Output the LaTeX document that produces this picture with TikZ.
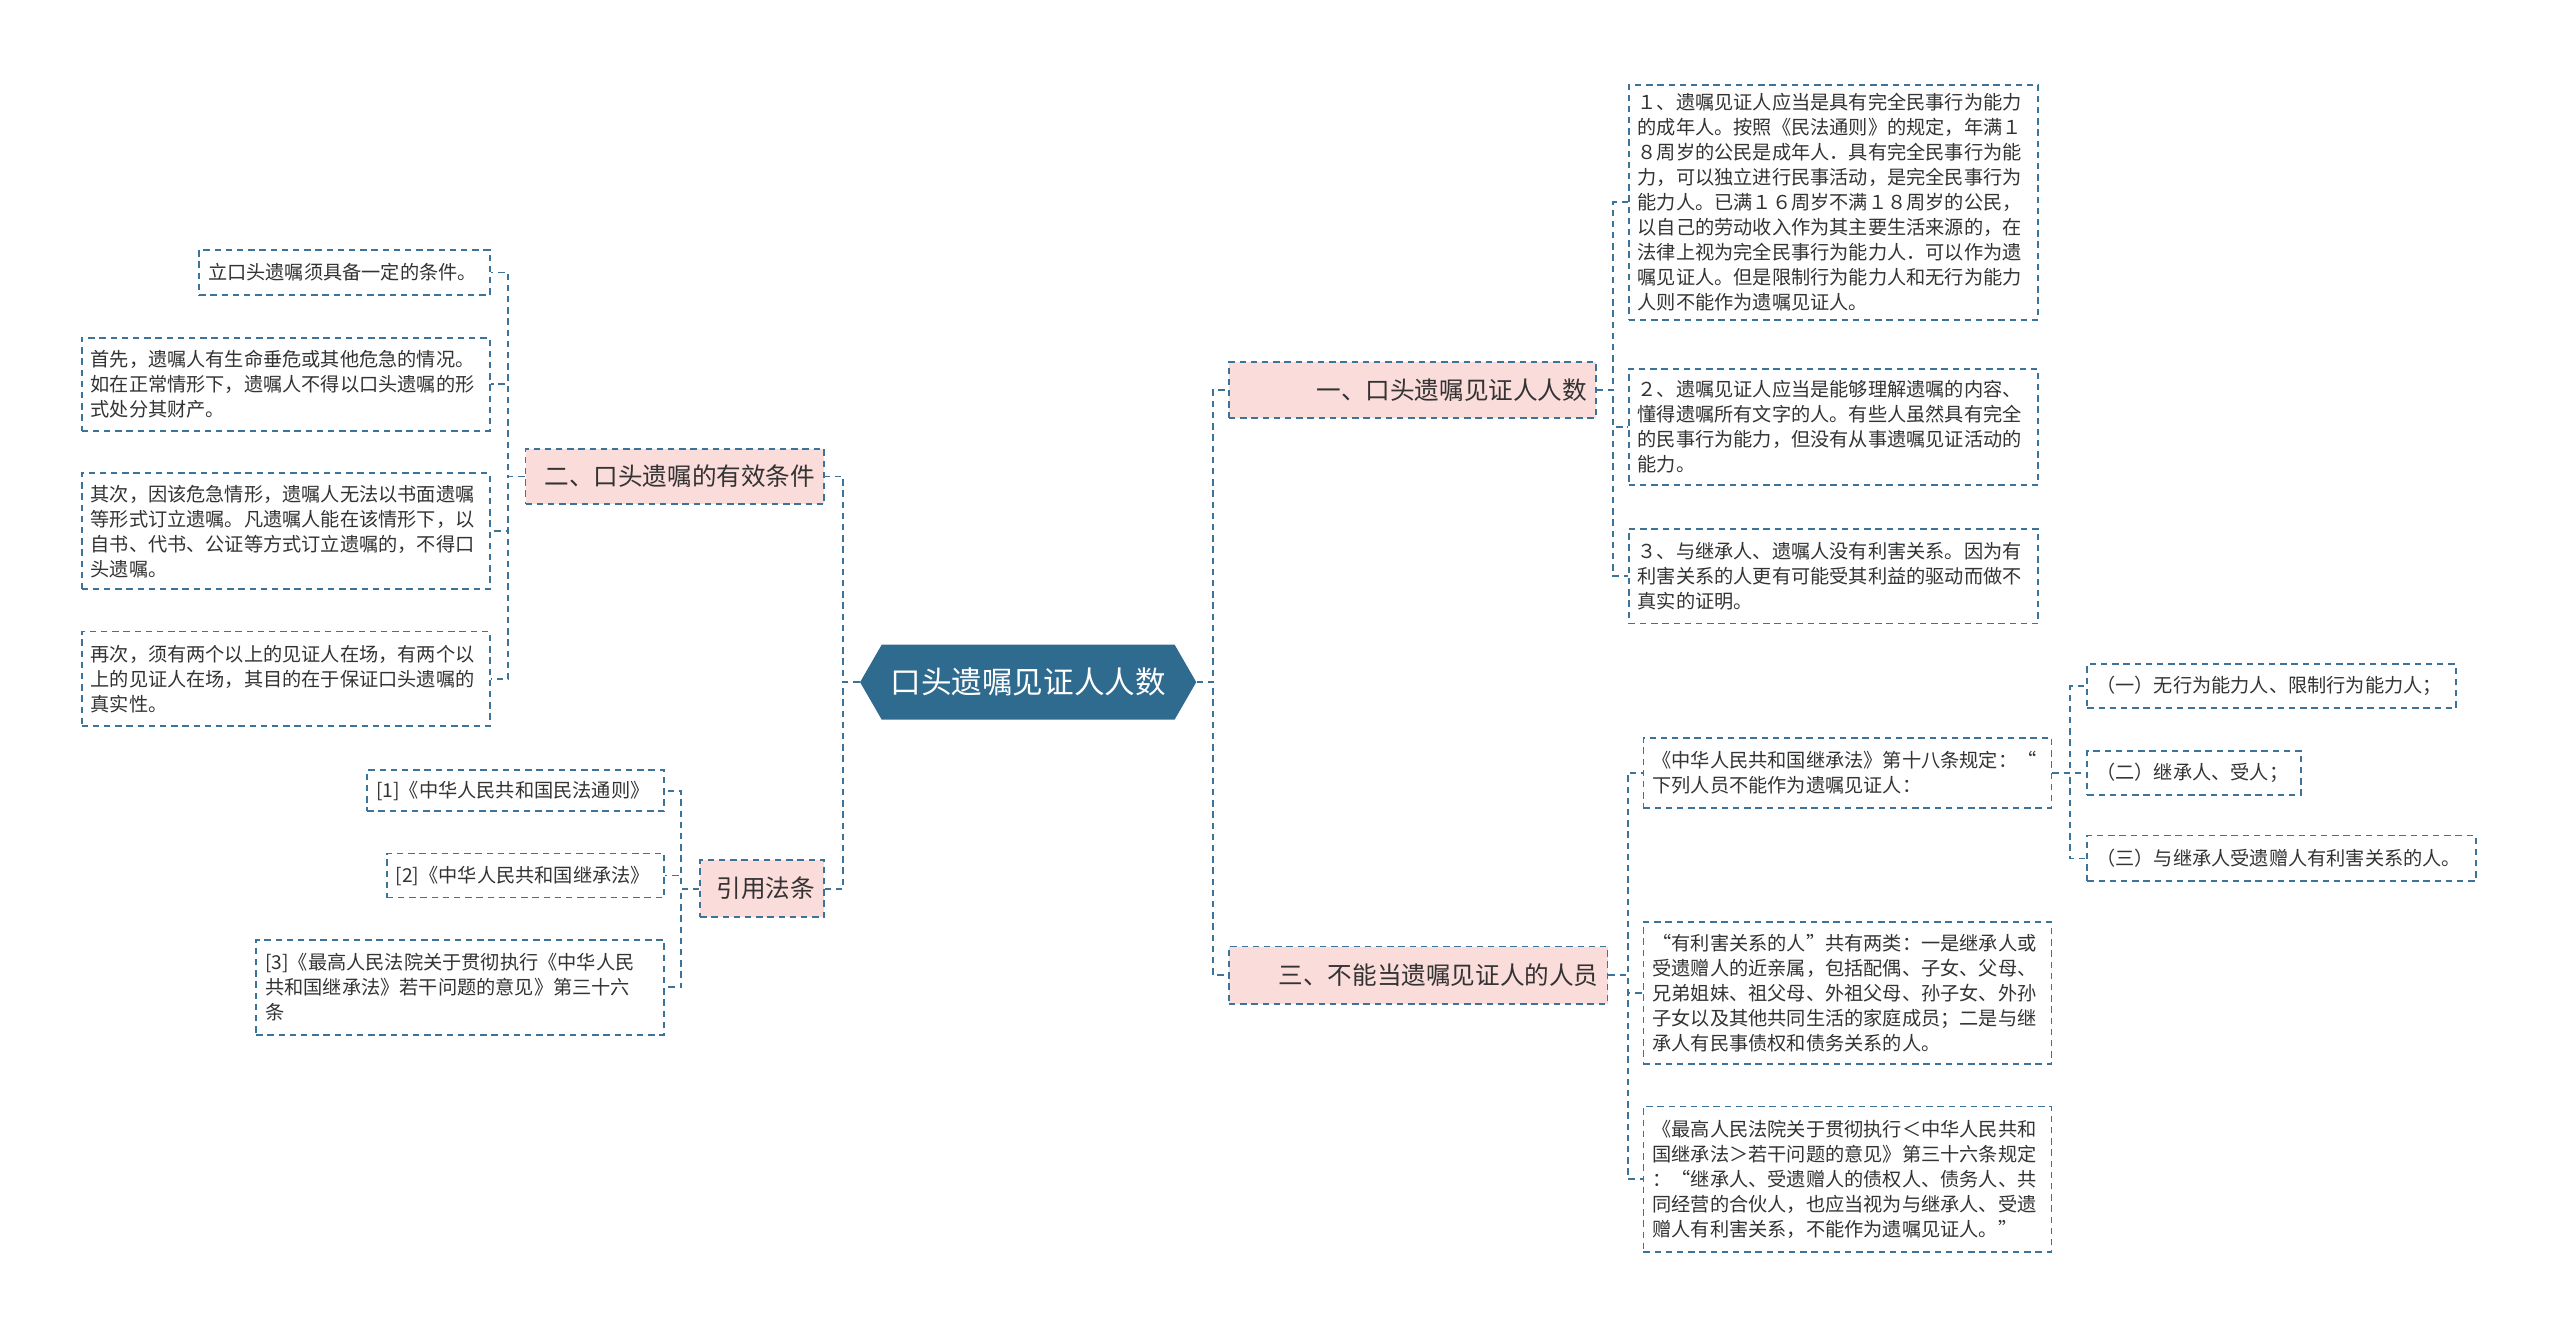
\documentclass[tikz,border=0pt]{standalone}
\usepackage{fontspec}
\setmainfont{Noto Sans CJK SC}
\usetikzlibrary{shapes.symbols}
\definecolor{lblue}{HTML}{3C7398}
\definecolor{rootc}{HTML}{2F6B8E}
\definecolor{pinkc}{HTML}{FADCDA}
\definecolor{txtc}{HTML}{333333}
\tikzset{
  dsh/.style={draw=lblue,line width=0.9pt,dash pattern=on 3.2pt off 2.4pt},
  leaf/.style={dsh,fill=white,inner xsep=4.5pt,inner ysep=2pt,align=left,text=txtc,font=\fontsize{9.6}{12.5}\selectfont},
  br/.style={dsh,fill=pinkc,inner xsep=4.5pt,inner ysep=2pt,align=right,text=txtc,font=\fontsize{12.3}{15}\selectfont},
  con/.style={dsh,fill=none}
}
\newcommand\lf[7][leaf]{%
 \pgfmathsetmacro\tw{(#5-#3)*0.816-9}%
 \pgfmathsetmacro\hh{(#6-#4)*0.816}%
 \pgfmathsetmacro\ww{(#5-#3)*0.816}%
 \node[#1,minimum width=\ww pt,minimum height=\hh pt,text width=\tw pt] (#2) at ({(#3+#5)/2},{(#4+#6)/2}) {#7};}
\begin{document}
\begin{tikzpicture}[x=0.816pt,y=-0.816pt]
\useasboundingbox (0,0) rectangle (1280pt,-668pt);
\node[signal,signal to=west and east,signal pointer angle=120,fill=rootc,text=white,minimum width={206*0.816pt},minimum height={46*0.816pt},inner sep=0pt,font=\fontsize{15.3}{18}\selectfont] (root) at (630,418) {口头遗嘱见证人人数};
% branches
\lf[br]{b1}{753}{222}{978}{256}{一、口头遗嘱见证人人数}
\lf[br]{b2}{322}{275}{505}{309}{二、口头遗嘱的有效条件}
\lf[br]{b4}{429}{527}{505}{562}{引用法条}
\lf[br]{b3}{753}{580}{985}{615}{三、不能当遗嘱见证人的人员}
% right leaves
\lf{r1}{998}{52}{1249}{196}{１、遗嘱见证人应当是具有完全民事行为能力\\的成年人。按照《民法通则》的规定，年满１\\８周岁的公民是成年人．具有完全民事行为能\\力，可以独立进行民事活动，是完全民事行为\\能力人。已满１６周岁不满１８周岁的公民，\\以自己的劳动收入作为其主要生活来源的，在\\法律上视为完全民事行为能力人．可以作为遗\\嘱见证人。但是限制行为能力人和无行为能力\\人则不能作为遗嘱见证人。}
\lf{r2}{998}{226}{1249}{297}{２、遗嘱见证人应当是能够理解遗嘱的内容、\\懂得遗嘱所有文字的人。有些人虽然具有完全\\的民事行为能力，但没有从事遗嘱见证活动的\\能力。}
\lf{r3}{998}{324}{1249}{382}{３、与继承人、遗嘱人没有利害关系。因为有\\利害关系的人更有可能受其利益的驱动而做不\\真实的证明。}
\lf{s1}{1007}{452}{1257}{495}{《中华人民共和国继承法》第十八条规定：“\\下列人员不能作为遗嘱见证人：}
\lf{t1}{1279}{407}{1505}{434}{（一）无行为能力人、限制行为能力人；}
\lf{t2}{1279}{460}{1410}{487}{（二）继承人、受人；}
\lf{t3}{1279}{512}{1517}{540}{（三）与继承人受遗赠人有利害关系的人。}
\lf{s2}{1007}{565}{1257}{652}{“有利害关系的人”共有两类：一是继承人或\\受遗赠人的近亲属，包括配偶、子女、父母、\\兄弟姐妹、祖父母、外祖父母、孙子女、外孙\\子女以及其他共同生活的家庭成员；二是与继\\承人有民事债权和债务关系的人。}
\lf{s3}{1007}{678}{1257}{767}{《最高人民法院关于贯彻执行＜中华人民共和\\国继承法＞若干问题的意见》第三十六条规定\\：“继承人、受遗赠人的债权人、债务人、共\\同经营的合伙人，也应当视为与继承人、受遗\\赠人有利害关系，不能作为遗嘱见证人。”}
% left leaves
\lf{l1}{122}{153}{300}{181}{立口头遗嘱须具备一定的条件。}
\lf{l2}{50}{207}{300}{264}{首先，遗嘱人有生命垂危或其他危急的情况。\\如在正常情形下，遗嘱人不得以口头遗嘱的形\\式处分其财产。}
\lf{l3}{50}{290}{300}{361}{其次，因该危急情形，遗嘱人无法以书面遗嘱\\等形式订立遗嘱。凡遗嘱人能在该情形下，以\\自书、代书、公证等方式订立遗嘱的，不得口\\头遗嘱。}
\lf{l4}{50}{387}{300}{445}{再次，须有两个以上的见证人在场，有两个以\\上的见证人在场，其目的在于保证口头遗嘱的\\真实性。}
\lf{q1}{225}{472}{407}{497}{[1]《中华人民共和国民法通则》}
\lf{q2}{237}{523}{407}{550}{[2]《中华人民共和国继承法》}
\lf{q3}{157}{576}{407}{634}{[3]《最高人民法院关于贯彻执行《中华人民\\共和国继承法》若干问题的意见》第三十六\\条}
% connectors
\foreach \b in {b1,b3} \draw[con] (root.east) -- ++(10,0) |- (\b.west);
\foreach \b in {b2,b4} \draw[con] (root.west) -- ++(-10,0) |- (\b.east);
\foreach \l in {r1,r2,r3} \draw[con] (b1.east) -- ++(10,0) |- (\l.west);
\foreach \l in {s1,s2,s3} \draw[con] (b3.east) -- ++(12,0) |- (\l.west);
\foreach \l in {t1,t2,t3} \draw[con] (s1.east) -- ++(11,0) |- (\l.west);
\foreach \l in {l1,l2,l3,l4} \draw[con] (b2.west) -- ++(-10,0) |- (\l.east);
\foreach \l in {q1,q2,q3} \draw[con] (b4.west) -- ++(-11,0) |- (\l.east);
\end{tikzpicture}
\end{document}
